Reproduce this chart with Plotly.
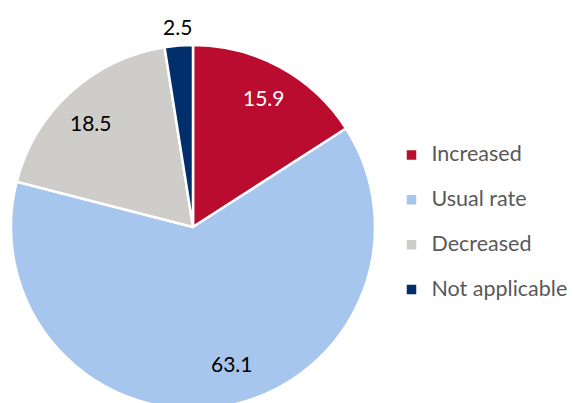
import math
import plotly.graph_objects as go

categories = ["Increased", "Usual rate", "Decreased", "Not applicable"]
values = [15.9, 63.1, 18.5, 2.5]
value_labels = ["15.9", "63.1", "18.5", "2.5"]

colors = ["#BA0C2F", "#A7C6ED", "#CFCDC9", "#002F6C"]
label_colors = ["#FFFFFF", "#000000", "#000000", "#000000"]
label_radius = [0.813, 0.78, 0.80, 1.107]
label_angle_tweak = [0.0, -6.9, -1.9, 0.0]

W, H = 573, 412
FONT = "Lato, 'Open Sans', sans-serif"

dom_x = [11 / W, 375 / W]
dom_y = [1 - 409 / H, 1 - 45 / H]

legend_names = [f"<span style='font-size:21.5px'>{c}</span><br> " for c in categories]

fig = go.Figure(
    go.Pie(
        labels=legend_names,
        values=values,
        sort=False,
        direction="clockwise",
        rotation=0,
        textinfo="none",
        marker=dict(colors=colors, line=dict(color="#FFFFFF", width=2.5)),
        domain=dict(x=dom_x, y=dom_y),
        hoverinfo="label+value",
    )
)

# label annotations positioned from the data (slice mid-angles)
cx = (dom_x[0] + dom_x[1]) / 2
cy = (dom_y[0] + dom_y[1]) / 2
R = min((dom_x[1] - dom_x[0]) * W, (dom_y[1] - dom_y[0]) * H) / 2
total = sum(values)
cum = 0.0
annotations = []
for v, t, col, rf, tw in zip(values, value_labels, label_colors, label_radius, label_angle_tweak):
    mid = (cum + v / 2) / total * 2 * math.pi + math.radians(tw)
    cum += v
    x = cx + rf * R * math.sin(mid) / W
    y = cy + rf * R * math.cos(mid) / H
    annotations.append(dict(
        x=x, y=y, xref="paper", yref="paper", text=t, showarrow=False,
        xanchor="center", yanchor="middle",
        font=dict(family=FONT, size=21, color=col),
    ))

fig.update_layout(
    width=W, height=H,
    margin=dict(l=0, r=0, t=0, b=0),
    paper_bgcolor="#FFFFFF",
    plot_bgcolor="#FFFFFF",
    font=dict(family=FONT),
    annotations=annotations,
    showlegend=True,
    legend=dict(
        x=391.5 / W, xanchor="left",
        y=1 - 138 / H, yanchor="top",
        font=dict(family=FONT, size=16.1, color="#595959"),
        valign="top",
        bgcolor="rgba(0,0,0,0)",
    ),
)

fig.write_html(
    "out.html",
    config={"displayModeBar": False},
    post_script="document.body.style.margin='0';document.body.style.overflow='hidden';",
)
